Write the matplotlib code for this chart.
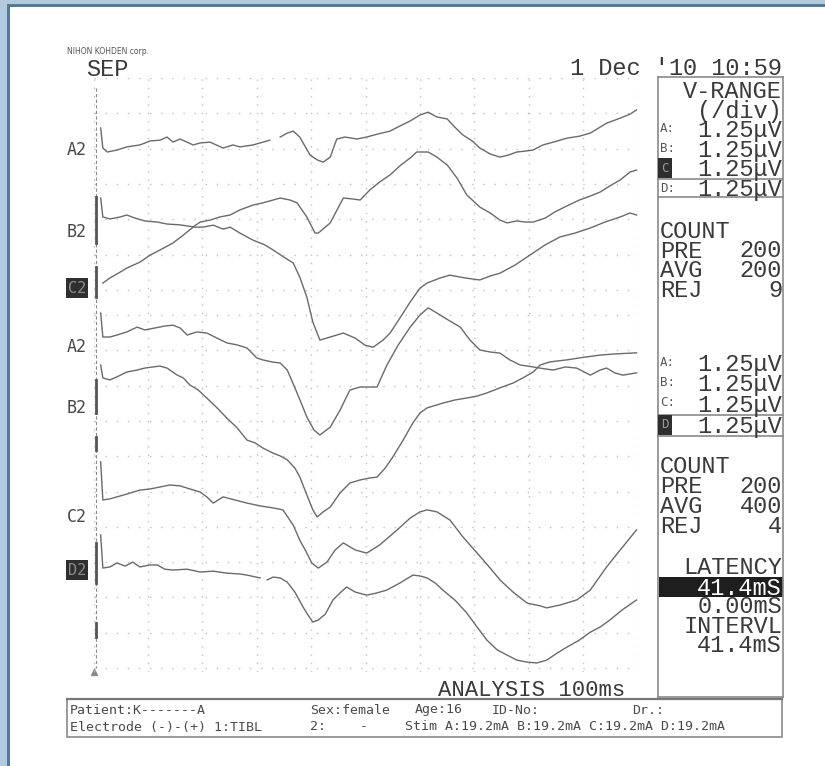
import numpy as np
import matplotlib
matplotlib.use("Agg")
import matplotlib.pyplot as plt
from matplotlib.patches import Rectangle
from matplotlib.font_manager import FontProperties

nan = np.nan

# averaged SEP traces: (time ms, amplitude uV, up = positive)
a2_top = [(1.3, 0.71), (1.7, 0), (2.5, -0.14), (4.3, -0.07), (6.1, 0.04), (8.5, 0.11), (10.4, 0.25),
          (12.2, 0.28), (13.5, 0.39), (14.6, 0.21), (15.9, 0.32), (18.3, 0.11), (19.6, 0.18), (21.4, 0.21),
          (23.8, 0), (25.6, 0.11), (26.9, 0.04), (29.3, 0.11), (31.9, 0.25), (32.4, 0.28), (33.3, nan),
          (34.3, 0.39), (35.6, 0.53), (36.7, 0.60), (37.9, 0.39), (39.8, -0.25), (41.1, -0.42), (42.2, -0.50),
          (43.5, -0.32), (44.7, 0.32), (46.2, 0.39), (48.4, 0.32), (50.2, 0.39), (52.3, 0.50), (54.5, 0.60),
          (56.3, 0.78), (58.2, 0.96), (60.0, 1.17), (61.5, 1.27), (63.1, 1.10), (65.0, 1.03), (66.4, 0.74),
          (67.9, 0.46), (69.6, 0.25), (71.0, 0), (72.9, -0.21), (74.7, -0.32), (76.2, -0.25), (77.8, -0.14),
          (79.3, -0.11), (80.8, -0.07), (82.6, 0.11), (84.5, 0.21), (87.0, 0.35), (89.3, 0.42), (91.3, 0.53),
          (93.1, 0.74), (94.3, 0.88), (96.8, 1.06), (98.6, 1.20), (99.8, 1.35)]

b2_top = [(1.3, 0.67), (1.7, 0), (3.0, -0.07), (4.9, 0), (6.1, 0.07), (7.6, -0.04), (9.4, -0.14),
          (11.7, -0.18), (13.5, -0.25), (15.9, -0.28), (18.3, -0.35), (19.6, -0.18), (21.4, -0.11), (23.2, 0),
          (25.1, 0.07), (26.9, 0.25), (29.3, 0.42), (31.1, 0.50), (33.0, 0.60), (34.3, 0.67), (36.1, 0.60),
          (37.4, 0.50), (39.2, 0), (40.7, -0.57), (41.3, -0.57), (43.5, -0.21), (45.9, 0.67), (47.5, 0.64),
          (49.0, 0.60), (50.8, 0.96), (52.6, 1.24), (54.5, 1.49), (56.3, 1.81), (58.2, 2.09), (59.4, 2.30),
          (61.5, 2.30), (63.1, 2.12), (65.0, 1.84), (66.8, 1.38), (68.6, 0.78), (71.0, 0.35), (72.9, 0.14),
          (74.7, -0.11), (76.0, -0.21), (77.8, -0.14), (79.3, -0.18), (80.8, -0.18), (83.0, -0.04), (84.8, 0.18),
          (87.0, 0.39), (89.3, 0.60), (91.3, 0.74), (93.1, 0.88), (94.9, 1.10), (96.8, 1.31), (98.6, 1.59),
          (99.8, 1.66)]

c_top = [(1.7, 0), (3.0, 0.18), (4.9, 0.39), (6.1, 0.53), (8.5, 0.74), (10.4, 0.99), (12.2, 1.17),
         (14.6, 1.42), (16.5, 1.70), (18.3, 1.98), (20.1, 1.98), (22.0, 2.05), (23.8, 1.91), (25.1, 1.98),
         (26.9, 1.77), (29.3, 1.52), (31.5, 1.35), (33.0, 1.17), (35.2, 0.89), (36.7, 0.71), (37.9, 0.21),
         (39.2, -0.50), (40.3, -1.38), (41.6, -2.02), (43.5, -1.91), (45.9, -1.77), (48.1, -1.95), (49.9, -2.20),
         (51.4, -2.27), (53.2, -2.02), (54.5, -1.77), (56.3, -1.24), (58.2, -0.67), (60.0, -0.18), (61.3, 0),
         (63.7, 0.18), (65.5, 0.28), (68.3, 0.18), (71.0, 0.11), (72.9, 0.25), (74.7, 0.35), (77.5, 0.64),
         (80.2, 0.99), (83.0, 1.35), (85.7, 1.63), (88.5, 1.77), (91.3, 1.95), (94.0, 2.16), (96.8, 2.34),
         (98.6, 2.48), (99.8, 2.41)]

a2_low = [(1.3, 0.85), (1.7, 0), (3.0, 0), (4.3, 0.07), (6.1, 0.18), (8.0, 0.35), (9.4, 0.25), (11.3, 0.32),
          (13.1, 0.39), (14.6, 0.42), (15.9, 0.32), (17.2, 0.07), (19.0, 0.18), (20.8, 0.14), (22.7, -0.04),
          (24.5, -0.21), (26.4, -0.28), (28.2, -0.39), (30.0, -0.74), (31.1, -0.81), (33.0, -0.89), (34.3, -0.92),
          (35.6, -1.17), (37.4, -1.98), (39.2, -2.83), (40.5, -3.29), (41.6, -3.47), (43.5, -3.19), (45.3, -2.59),
          (47.1, -1.88), (49.0, -1.77), (52.1, -1.77), (53.9, -1.00), (56.0, -0.28), (58.2, 0.35), (60.0, 0.78),
          (61.5, 1.03), (63.1, 0.85), (64.6, 0.67), (67.4, 0.35), (69.2, -0.11), (71.0, -0.46), (72.9, -0.53),
          (74.7, -0.57), (76.5, -0.81), (78.4, -0.99), (80.8, -1.06), (83.0, -1.13), (84.5, -1.17), (86.7, -1.06),
          (88.8, -1.10), (91.3, -1.35), (93.1, -1.17), (94.3, -1.10), (95.8, -1.27), (97.3, -1.35), (99.8, -1.27)]

b2_low = [(1.3, 0.46), (1.7, 0), (3.0, -0.07), (4.3, 0.04), (6.1, 0.21), (8.0, 0.28), (9.4, 0.35), (10.9, 0.39),
          (12.2, 0.42), (13.5, 0.35), (15.3, 0.11), (16.5, 0), (17.7, -0.25), (19.2, -0.42), (20.8, -0.71),
          (22.7, -1.06), (24.5, -1.42), (26.4, -1.77), (28.2, -2.20), (29.7, -2.30), (31.1, -2.48), (33.0, -2.66),
          (34.3, -2.76), (35.6, -2.90), (37.0, -3.19), (37.9, -3.50), (39.2, -4.14), (40.3, -4.67), (41.1, -4.92),
          (42.2, -4.74), (43.5, -4.57), (45.3, -4.07), (47.1, -3.72), (49.0, -3.61), (50.8, -3.54), (52.1, -3.51),
          (53.6, -3.19), (55.0, -2.80), (56.9, -2.20), (58.7, -1.59), (60.0, -1.24), (61.3, -1.06), (64.2, -0.89),
          (66.4, -0.78), (68.6, -0.71), (70.5, -0.64), (72.3, -0.53), (74.7, -0.35), (77.1, -0.18), (78.9, 0),
          (80.8, 0.21), (82.1, 0.46), (83.9, 0.57), (87.0, 0.64), (89.3, 0.71), (93.1, 0.81), (95.8, 0.85),
          (99.8, 0.89)]

c2_low = [(1.3, 1.35), (1.7, 0), (3.0, 0.04), (4.3, 0.11), (6.1, 0.21), (8.5, 0.35), (10.4, 0.39), (12.2, 0.46),
          (14.0, 0.53), (15.9, 0.50), (17.7, 0.39), (19.6, 0.28), (20.8, 0.11), (22.0, -0.11), (22.9, 0),
          (23.8, 0.11), (26.0, 0), (28.2, -0.11), (30.6, -0.21), (33.0, -0.28), (34.8, -0.35), (36.7, -0.89),
          (37.9, -1.42), (39.2, -1.88), (40.1, -2.23), (41.3, -2.41), (42.9, -2.20), (44.4, -1.77), (45.9, -1.52),
          (48.1, -1.77), (50.2, -1.88), (52.6, -1.59), (55.8, -1.06), (58.2, -0.64), (60.0, -0.42), (61.3, -0.35),
          (63.1, -0.42), (65.5, -0.71), (67.9, -1.31), (70.5, -1.88), (72.9, -2.41), (74.7, -2.83), (77.1, -3.26),
          (79.7, -3.65), (82.1, -3.75), (83.3, -3.82), (85.7, -3.72), (88.8, -3.54), (91.3, -3.19), (94.3, -2.37),
          (96.8, -1.77), (99.8, -1.06)]

d_low = [(1.3, 1.17), (1.7, 0), (3.0, 0.04), (4.3, 0.18), (5.8, 0.07), (7.2, 0.21), (8.5, 0.04), (10.4, 0.11),
         (11.7, 0.11), (13.1, -0.04), (14.6, -0.07), (17.2, -0.04), (19.6, -0.14), (22.0, -0.11), (24.5, -0.18),
         (26.9, -0.21), (28.2, -0.25), (30.6, -0.35), (31.2, nan), (31.9, -0.42), (33.0, -0.32), (34.3, -0.35),
         (35.6, -0.50), (37.0, -0.85), (38.5, -1.38), (39.4, -1.66), (40.3, -1.91), (41.3, -1.84), (42.6, -1.63),
         (44.0, -1.13), (45.3, -0.88), (46.5, -0.67), (48.1, -0.85), (50.2, -0.96), (52.1, -0.88), (53.9, -0.78),
         (56.3, -0.53), (58.7, -0.25), (60.0, -0.28), (61.3, -0.35), (62.8, -0.53), (64.2, -0.78), (66.4, -1.13),
         (68.6, -1.59), (70.5, -2.09), (72.3, -2.55), (74.2, -2.90), (76.0, -3.08), (77.8, -3.26), (79.7, -3.33),
         (81.5, -3.36), (83.3, -3.26), (85.2, -3.01), (87.0, -2.80), (89.3, -2.55), (91.3, -2.27), (93.1, -2.09),
         (94.9, -1.84), (97.1, -1.49), (99.8, -1.13)]

traces = [a2_top, b2_top, c_top, a2_low, b2_low, c2_low, d_low]
# vertical position (uV below top grid line) of each channel's start
baselines = [-2.48, -4.92, -7.26, -9.17, -10.62, -14.94, -17.35]

# channel labels on the left: (text, inverted, y position uV)
channel_labels = [("A2", False, -2.55), ("B2", False, -5.45), ("C2", True, -7.44),
                  ("A2", False, -9.52), ("B2", False, -11.68), ("C2", False, -15.54), ("D2", True, -17.42)]

time_ticks = np.arange(0, 101, 10)          # 10 ms / div, ANALYSIS 100 ms
div_uv = 1.25                                # V-RANGE per div
rows_top = -div_uv * np.arange(7)
rows_bottom = -8.39 - div_uv * np.arange(11)
cal_marks = [(-4.21, -5.84), (-6.69, -7.75), (-10.69, -11.86), (-12.71, -13.17), (-16.46, -17.88), (-19.29, -19.79)]

channels = ["A", "B", "C", "D"]
vrange_value = "1.25μV"
count_names = ["PRE", "AVG", "REJ"]
count_1 = ["200", "200", "9"]
count_2 = ["200", "400", "4"]
latency = ["41.4mS", "0.00mS"]
interval = "41.4mS"

TRACE = "#6a6a6a"
INK = "#3a3a3a"
GRID = "#c0c0c0"
LINE = "#8a8a8a"
MONO = "Liberation Mono"

fig = plt.figure(figsize=(8.25, 7.66), dpi=100)
renderer = fig.canvas.get_renderer()

# page overlay in pixel units for the printout furniture
frame = fig.add_axes([0, 0, 1, 1])
frame.set_xlim(0, 825)
frame.set_ylim(766, 0)
frame.axis("off")

# blue scan border (top and left)
frame.add_patch(Rectangle((0, 0), 825, 5, color="#b3c9dd", lw=0))
frame.add_patch(Rectangle((0, 0), 7, 766, color="#b3c9dd", lw=0))
frame.add_patch(Rectangle((7, 4), 818, 3, color="#557a99", lw=0))
frame.add_patch(Rectangle((7, 4), 3, 762, color="#557a99", lw=0))

# waveform axes
ax = fig.add_axes([93.6 / 825, 1 - 672 / 766, 544 / 825, 594 / 766])
ax.set_xlim(0, 100)
ax.set_ylim(-21.03, 0)
ax.axis("off")

ax.hlines(np.r_[rows_top, rows_bottom], 0, 100, colors=GRID, linestyles=(0, (1, 7)), lw=1)
ax.vlines(time_ticks, -21.03, 0, colors=GRID, linestyles=(0, (1, 5)), lw=1)

# left calibration line
ax.plot([0.45, 0.45], [-0.35, -20.9], color="#8c8c8c", lw=0.8, ls=(0, (3, 2)), clip_on=False)
for y0, y1 in cal_marks:
    ax.plot([0.45, 0.45], [y0, y1], color="#555555", lw=2.0, clip_on=False)

for tr, base in zip(traces, baselines):
    t, v = np.array(tr, dtype=float).T
    ax.plot(t, base + v, color=TRACE, lw=1.0, clip_on=False)

for text, inverted, y in channel_labels:
    if inverted:
        ax.text(-3.05, y, text, ha="center", va="center", family="DejaVu Sans Mono", fontsize=11,
                color="#8a8a8a", bbox=dict(boxstyle="square,pad=0.15", fc="#2e2e2e", ec="none"))
    else:
        ax.text(-3.05, y, text, ha="center", va="center", family="DejaVu Sans Mono", fontsize=12, color="#484848")


def block(x, y, lines, ha="left", step=19.7, size=17, color=INK):
    # multi-line printer text; y is the centre of the first line, step the line pitch in px
    prop = FontProperties(family=MONO, size=size)
    _, lp_h, lp_d = renderer.get_text_width_height_descent("lp", prop, ismath=False)
    _, cap, _ = renderer.get_text_width_height_descent("H", prop, ismath=False)
    ls = (step - lp_d) / (lp_h - lp_d)
    top = y + cap / 2 - (lp_h - lp_d)
    frame.text(x, top, "\n".join(lines), ha=ha, va="top", multialignment=ha,
               linespacing=ls, fontproperties=prop, color=color)


# header
frame.text(67, 52, "NIHON KOHDEN corp.", ha="left", va="center", fontsize=5.5, color="#555555")
block(86, 68, ["SEP"])
block(782, 67, ["1 Dec '10 10:59"], ha="right")

# right side panel
L, R = 658, 783
frame.plot([L, L], [77, 697], color=LINE, lw=1.2)
frame.plot([R, R], [77, 697], color=LINE, lw=1.2)
for yy in [77, 179, 197, 415, 436, 697]:
    frame.plot([L, R], [yy, yy], color=LINE, lw=1.2)


def channel_tags(ys, hot):
    for letter, y in zip(channels, ys):
        if letter == hot:
            frame.text(661, y, letter, ha="left", va="center", family="DejaVu Sans Mono", fontsize=9,
                       color="#9a9a9a", bbox=dict(boxstyle="square,pad=0.25", fc="#2e2e2e", ec="none"))
        else:
            frame.text(660, y, letter + ":", ha="left", va="center", family="DejaVu Sans Mono",
                       fontsize=9, color="#555555")


block(782, 90, ["V-RANGE", "(/div)"], ha="right", step=20)
channel_tags([129, 148, 168, 188], "C")
block(782, 129, [vrange_value] * 4, ha="right", step=19.7)
block(660, 230, ["COUNT"] + count_names, step=19.7)
block(782, 249, count_1, ha="right", step=19.9)

channel_tags([363, 383, 403, 425], "D")
block(782, 363, [vrange_value] * 4, ha="right", step=20.5)
block(660, 465, ["COUNT"] + count_names, step=20)
block(782, 485, count_2, ha="right", step=20)

frame.add_patch(Rectangle((659, 577), 124, 20, color="#1e1e1e", lw=0))
block(782, 566, ["LATENCY", "", latency[1], "INTERVL", interval], ha="right", step=19.6)
block(782, 587, [latency[0]], ha="right", color="white")

# analysis window and start marker
block(625, 688, ["ANALYSIS 100ms"], ha="right", size=16)
frame.plot([94], [672], marker="^", ms=4, color="#8a8a8a")

# patient information box
frame.add_patch(Rectangle((67, 699), 715, 38, fill=False, ec=LINE, lw=1.2))
frame.plot([67, 782], [699, 699], color="#777777", lw=1.6)
small = dict(va="center", family="DejaVu Sans Mono", fontsize=9.5, color="#4a4a4a")
frame.text(70, 710, "Patient:K-------A", **small)
frame.text(310, 710, "Sex:female", **small)
frame.text(415, 710, "Age:16", **small)
frame.text(492, 710, "ID-No:", **small)
frame.text(632, 710, "Dr.:", **small)
frame.text(70, 727, "Electrode (-)-(+) 1:TIBL", **small)
frame.text(310, 727, "2:", **small)
frame.text(360, 727, "-", **small)
frame.text(405, 727, "Stim A:19.2mA B:19.2mA C:19.2mA D:19.2mA", **small)

fig.savefig("out.png", dpi=100, facecolor="white")
